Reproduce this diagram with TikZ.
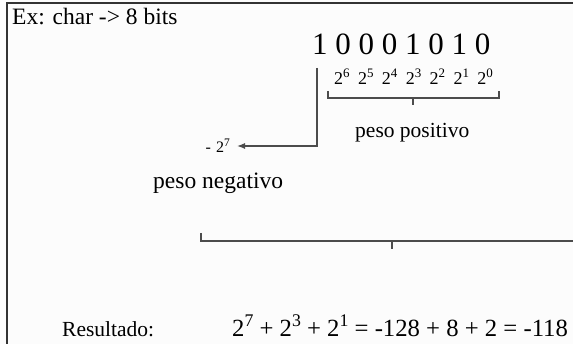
\documentclass[tikz,border=0pt]{standalone}
\usepackage{fontspec}
\setmainfont{Liberation Serif}
\usetikzlibrary{arrows.meta}
\newcommand\sups[1]{\raisebox{.42em}{\scalebox{.72}{#1}}}
\begin{document}
\begin{tikzpicture}[x=1pt,y=-1pt,
  txt/.style={anchor=base west,inner sep=0pt,text=black},
  ln/.style={draw=black!70,line width=1.3pt},
  fr/.style={draw=black!80,line width=1.6pt}]
\useasboundingbox[fill=black!1] (0,0) rectangle (573,344);
\draw[fr] (573,3) -- (7,3) -- (7,344);
\node[txt,font=\fontsize{23.5}{25}\selectfont] (ex) at (12,25) {Ex: char -> 8 bits};
\node[txt,font=\fontsize{31}{33}\selectfont] (bits) at (312,55) {1 0 0 0 1 0 1 0};
\node[txt,font=\fontsize{18}{20}\selectfont] (pw) at (334,85) {2\sups{6}\hspace{8.4pt}2\sups{5}\hspace{8.4pt}2\sups{4}\hspace{8.4pt}2\sups{3}\hspace{8.4pt}2\sups{2}\hspace{8.4pt}2\sups{1}\hspace{8.4pt}2\sups{0}};
\draw[ln] (328,91) -- (328,98) -- (499,98) -- (499,91);
\draw[ln] (413,98) -- (413,105);
\node[txt,font=\fontsize{21.5}{23}\selectfont] (pp) at (355,138) {peso positivo};
\node[anchor=base east,inner sep=0pt,font=\fontsize{16}{18}\selectfont] (neg) at (230,153) {-\hspace{5pt}2\sups{7}};
\coordinate (top) at (317,68);
\coordinate (tip) at (237,146);
\draw[ln,-{Latex[length=8pt,width=6pt]}] (top) |- (tip);
\node[txt,font=\fontsize{23.5}{25}\selectfont] (pn) at (153,189) {peso negativo};
\draw[ln] (201,233) -- (201,241) -- (573,241);
\draw[ln] (392,241) -- (392,249);
\node[txt,font=\fontsize{21.5}{23}\selectfont] (res) at (62,337) {Resultado:};
\node[txt,font=\fontsize{24.7}{26}\selectfont] (eq) at (232,337) {2\sups{7} + 2\sups{3} + 2\sups{1} = -128 + 8 + 2 = -118};
\end{tikzpicture}
\end{document}
